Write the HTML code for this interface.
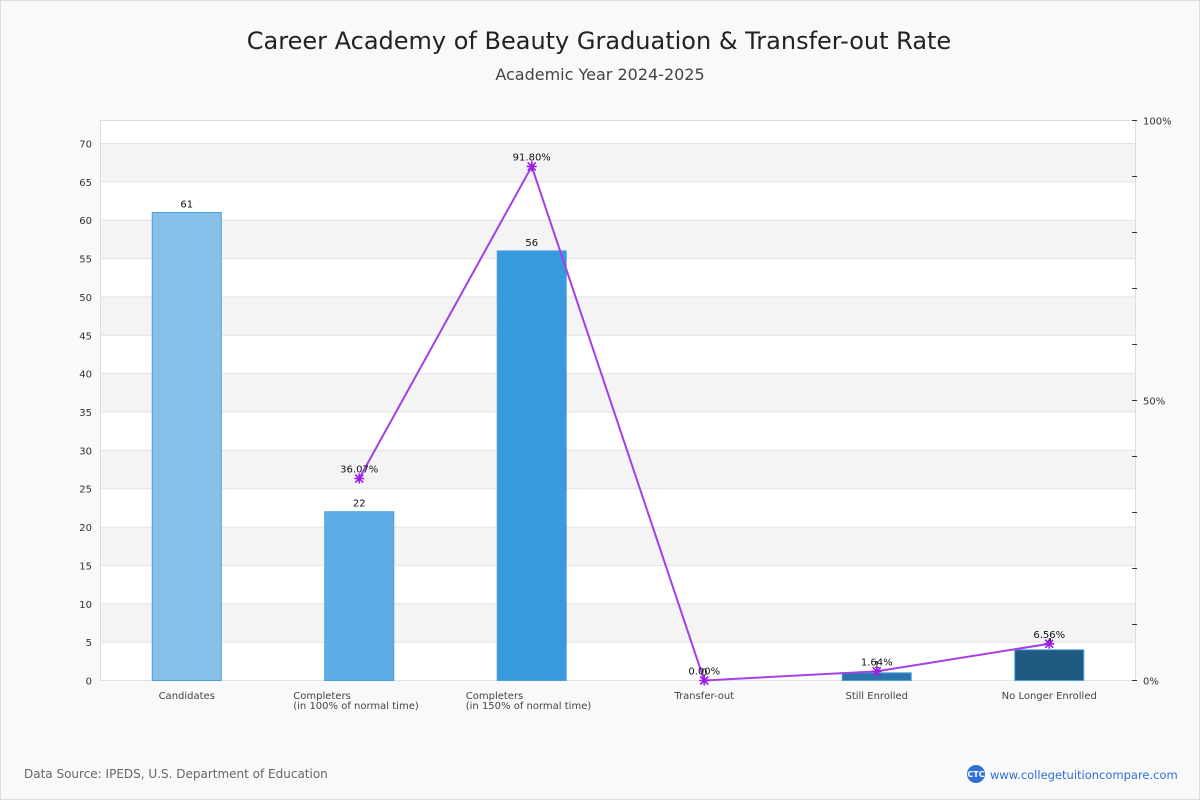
<!DOCTYPE html>
<html><head><meta charset="utf-8"><style>
body{margin:0;background:#fff;font-family:"DejaVu Sans","Liberation Sans",sans-serif}
#wrap{position:relative;width:1198px;height:798px;border:1px solid #ddd;background:#f9f9f9}
svg text{font-family:"DejaVu Sans","Liberation Sans",sans-serif}
</style></head><body>
<div id="wrap">
<svg id="chart" width="1198" height="798">
<text x="598" y="48" text-anchor="middle" font-size="24" fill="#222">Career Academy of Beauty Graduation &amp; Transfer-out Rate</text>
<text x="599" y="79" text-anchor="middle" font-size="16" fill="#444">Academic Year 2024-2025</text>
<g id="plot"></g>
<text x="23" y="777" font-size="12" fill="#666">Data Source: IPEDS, U.S. Department of Education</text>
<circle cx="975" cy="773" r="9" fill="#2f6fd6"/>
<text x="975" y="776" text-anchor="middle" font-size="8" fill="#fff" font-weight="bold">CTC</text>
<text x="989" y="778" font-size="11.5" fill="#2f6fd6">www.collegetuitioncompare.com</text>
</svg></div>
<script>
const categories=["Candidates","Completers|(in 100% of normal time)","Completers|(in 150% of normal time)","Transfer-out","Still Enrolled","No Longer Enrolled"];
const counts=[61,22,56,0,1,4];
const rates=[null,36.07,91.80,0.00,1.64,6.56];
const rateLabels=["","36.07%","91.80%","0.00%","1.64%","6.56%"];
const barColors=["#87c1ea","#5eade6","#3899dc","#2f86c8","#2a75ad","#1f5a80"];
const yTicks=[0,5,10,15,20,25,30,35,40,45,50,55,60,65,70];
const ns="http://www.w3.org/2000/svg";
const g=document.getElementById('plot');
const L=99.5,R=1134.5,T=119.5,B=679.5;
const y=v=>B-v*(537/70);
const yr=p=>B-p*(560/100);
const bw=(R-L)/categories.length;
const x=i=>L+bw*(i+0.5);
function mk(t,a,txt){const e=document.createElementNS(ns,t);for(const k in a)e.setAttribute(k,a[k]);if(txt!==undefined)e.textContent=txt;g.appendChild(e);return e;}
let e=mk('rect',{x:L,y:T,width:R-L,height:B-T,fill:'#fff',stroke:'#ddd'});

for(let v=5;v<70;v+=10){e=mk('rect',{x:L+0.5,y:y(v+5),width:R-L-1,height:y(v)-y(v+5),fill:'#f4f4f4'});
}
yTicks.forEach(v=>{e=mk('line',{x1:L,x2:R,y1:y(v),y2:y(v),stroke:'#e2e2e2'});

e=mk('text',{x:91,y:y(v)+4,'text-anchor':'end','font-size':10,fill:'#333'},v);
});
for(let p=0;p<=100;p+=10){e=mk('line',{x1:1131,x2:1136,y1:yr(p),y2:yr(p),stroke:'#333'});

if(p%50===0){e=mk('text',{x:1142,y:yr(p)+4,'font-size':10,fill:'#333'},p+'%');
}}
categories.forEach((c,i)=>{
 const h=B-y(counts[i]);
 if(counts[i]>0){e=mk('rect',{x:x(i)-34.5,y:y(counts[i]),width:69,height:h,fill:barColors[i],stroke:'#4a9ee0','stroke-width':1});
 }
 e=mk('text',{x:x(i),y:y(counts[i])-5,'text-anchor':'middle','font-size':10,fill:'#111'},counts[i]);
 
 const parts=c.split('|');
 if(parts.length>1){e=mk('text',{x:x(i)-66,y:698,'font-size':10,fill:'#444'},parts[0]);
  
  e=mk('text',{x:x(i)-66,y:708,'font-size':10,fill:'#444'},parts[1]);
  }
 else{e=mk('text',{x:x(i),y:698,'text-anchor':'middle','font-size':10,fill:'#444'},c);
  }
});
let pts=[];rates.forEach((r,i)=>{if(r!==null)pts.push([x(i),yr(r)]);});
e=mk('polyline',{points:pts.map(p=>p.join(',')).join(' '),fill:'none',stroke:'#a53ee8','stroke-width':2});

rates.forEach((r,i)=>{if(r===null)return;const cx=x(i),cy=yr(r);
 e=mk('path',{d:`M${cx-5},${cy}H${cx+5}M${cx},${cy-5}V${cy+5}M${cx-4},${cy-4}L${cx+4},${cy+4}M${cx-4},${cy+4}L${cx+4},${cy-4}`,stroke:'#9b1ee6','stroke-width':1.6});
 
 e=mk('text',{x:cx,y:cy-6,'text-anchor':'middle','font-size':10,fill:'#111'},rateLabels[i]);
 });
</script>
</body></html>
